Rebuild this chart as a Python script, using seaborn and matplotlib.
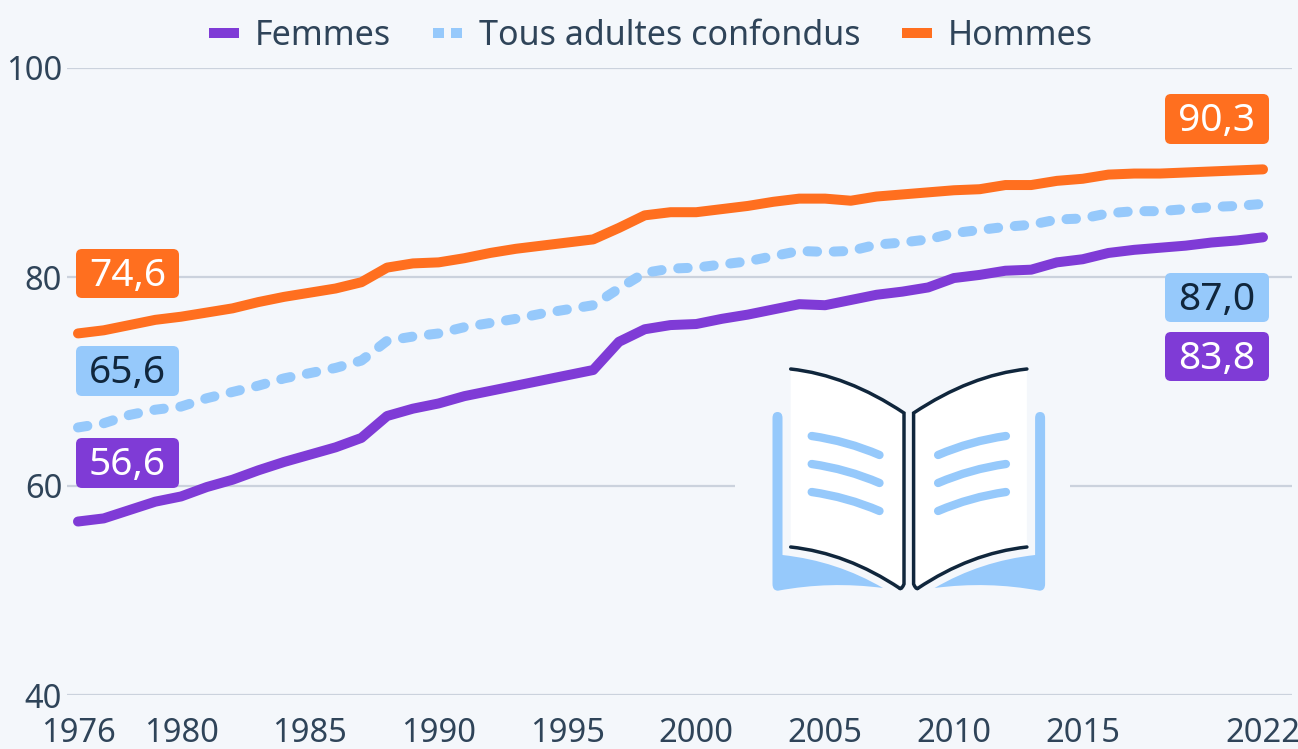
import numpy as np
import pandas as pd
import matplotlib
matplotlib.use('Agg')
import matplotlib.pyplot as plt
from matplotlib.patches import FancyBboxPatch, PathPatch, Rectangle
from matplotlib.path import Path
import seaborn as sns

years = list(range(1976, 2023))
femmes = [56.6, 56.9, 57.7, 58.5, 59.0, 59.9, 60.6, 61.5, 62.3, 63.0, 63.7, 64.6,
          66.7, 67.4, 67.9, 68.6, 69.1, 69.6, 70.1, 70.6, 71.1, 73.8, 75.0, 75.4,
          75.5, 76.0, 76.4, 76.9, 77.4, 77.3, 77.8, 78.3, 78.6, 79.0, 79.9, 80.2,
          80.6, 80.7, 81.4, 81.7, 82.3, 82.6, 82.8, 83.0, 83.3, 83.5, 83.8]
tous = [65.6, 66.0, 66.8, 67.3, 67.6, 68.4, 69.0, 69.6, 70.3, 70.8, 71.3, 72.0,
        73.9, 74.3, 74.6, 75.2, 75.6, 76.0, 76.5, 76.9, 77.3, 78.9, 80.4, 80.8,
        80.9, 81.2, 81.5, 82.0, 82.5, 82.4, 82.5, 83.1, 83.3, 83.6, 84.2, 84.5,
        84.8, 85.0, 85.5, 85.6, 86.1, 86.3, 86.3, 86.5, 86.7, 86.8, 87.0]
hommes = [74.6, 74.9, 75.4, 75.9, 76.2, 76.6, 77.0, 77.6, 78.1, 78.5, 78.9, 79.5,
          80.9, 81.3, 81.4, 81.8, 82.3, 82.7, 83.0, 83.3, 83.6, 84.7, 85.9, 86.2,
          86.2, 86.5, 86.8, 87.2, 87.5, 87.5, 87.3, 87.7, 87.9, 88.1, 88.3, 88.4,
          88.8, 88.8, 89.2, 89.4, 89.8, 89.9, 89.9, 90.0, 90.1, 90.2, 90.3]
x_ticks = [1976, 1980, 1985, 1990, 1995, 2000, 2005, 2010, 2015, 2022]
y_ticks = [40, 60, 80, 100]

BG = '#f4f7fb'
PURPLE = '#7f3bd6'
BLUE = '#96c9fb'
ORANGE = '#ff6f1f'
DARK = '#10263c'
TICK = '#2f4459'
GRID = '#cbd2dd'

names = ['Femmes', 'Tous adultes confondus', 'Hommes']
df = pd.DataFrame({'annee': years * 3,
                   'valeur': femmes + tous + hommes,
                   'serie': [n for n in names for _ in years]})

sns.set_theme(style='white')
plt.rcParams['font.family'] = ['Noto Sans', 'DejaVu Sans']

W, H = 1298, 749
fig = plt.figure(figsize=(W / 100, H / 100), dpi=100, facecolor=BG)

# axes placed so the gridlines land on the same pixels as the reference
left, right, top, bottom = 67, 1292, 68, 695
ax = fig.add_axes([left / W, 1 - bottom / H, (right - left) / W, (bottom - top) / H])
ax.set_facecolor(BG)

sns.lineplot(data=df, x='annee', y='valeur', hue='serie', style='serie',
             hue_order=names, style_order=names,
             palette=[PURPLE, BLUE, ORANGE],
             dashes={'Femmes': '', 'Tous adultes confondus': (0.95, 1.667), 'Hommes': ''},
             linewidth=7.2, ax=ax, clip_on=False, errorbar=None)

for line in ax.get_lines():
    line.set_solid_capstyle('round')
    line.set_dash_capstyle('round')
    line.set_solid_joinstyle('round')

px_year = (1263 - 78) / 46
ax.set_xlim(1976 - (78 - left) / px_year, 1976 + (right - 78) / px_year)
ax.set_ylim(40, 100)
ax.set_xticks(x_ticks)
ax.set_yticks(y_ticks)
ax.set_xlabel('')
ax.set_ylabel('')
ax.grid(axis='y', color=GRID, linewidth=1.6)
ax.grid(axis='x', visible=False)
ax.set_axisbelow(True)
sns.despine(ax=ax, left=True, bottom=True, top=True, right=True)
# pad kept just small enough for the year labels to stay inside the figure
ax.tick_params(axis='x', length=0, pad=16, labelsize=23.5, labelcolor=TICK)
ax.tick_params(axis='y', length=0, pad=3.5, labelsize=23.5, labelcolor=TICK)

handles, labels = ax.get_legend_handles_labels()
leg = ax.legend(handles, labels, ncol=3, frameon=False, fontsize=24.5,
                loc='center', bbox_to_anchor=(651 / W, 1 - 36 / H),
                bbox_transform=fig.transFigure, handlelength=0.88, handletextpad=0.47,
                columnspacing=1.22, labelcolor=TICK, borderpad=0)
for h in leg.get_lines():
    h.set_linewidth(7.2)
    h.set_solid_capstyle('butt')
    h.set_dash_capstyle('butt')
leg.get_lines()[1].set_dashes((1.1, 0.7))

# overlay in pixel coordinates for the value boxes and the book icon
ov = fig.add_axes([0, 0, 1, 1], facecolor='none')
ov.set_xlim(0, W)
ov.set_ylim(H, 0)
ov.axis('off')


def value_box(x0, y0, x1, y1, value, color, text_color):
    ov.add_patch(FancyBboxPatch((x0 + 6, y0 + 6), x1 - x0 - 12, y1 - y0 - 12,
                                boxstyle='round,pad=6,rounding_size=6',
                                fc=color, ec='none', zorder=5))
    ov.text((x0 + x1) / 2, (y0 + y1) / 2 - 2, f'{value:.1f}'.replace('.', ','),
            ha='center', va='center_baseline', fontsize=28, color=text_color, zorder=6)


value_box(76, 249, 179, 298, hommes[0], ORANGE, 'white')
value_box(76, 346, 179, 396, tous[0], BLUE, DARK)
value_box(76, 438, 179, 488, femmes[0], PURPLE, 'white')
value_box(1165, 94, 1269, 144, hommes[-1], ORANGE, 'white')
value_box(1165, 273, 1269, 322, tous[-1], BLUE, DARK)
value_box(1165, 332, 1269, 381, femmes[-1], PURPLE, 'white')

# book icon, gridline at 60 stops around it
ov.add_patch(Rectangle((735, 470), 335, 32, fc=BG, ec='none', zorder=1))

M, L, C, Z = Path.MOVETO, Path.LINETO, Path.CURVE3, Path.CLOSEPOLY
CX = 908.8


def mirrored(pts):
    return [(2 * CX - x, y) for x, y in pts]


cover = [(772.5, 418), (772.5, 412), (777.5, 412), (782.5, 412), (782.5, 418), (782.5, 555),
         (837, 561), (883, 588), (830, 581), (778, 590.7), (772.5, 590.7), (772.5, 584),
         (772.5, 418)]
cover_codes = [M, C, C, C, C, L, C, C, C, C, C, C, Z]
page = [(790.7, 369), (847, 375), (905, 413), (905, 588), (847, 553), (790.7, 547), (790.7, 369)]
page_codes = [M, C, C, L, C, C, Z]
outline_top = [(790.7, 369), (847, 375), (904, 413), (904, 584), (902, 589), (900, 588.5)]
outline_bot = [(900, 588.5), (847, 553), (790.7, 547)]

for flip in (False, True):
    f = mirrored if flip else (lambda p: p)
    ov.add_patch(PathPatch(Path(f(cover), cover_codes), fc=BLUE, ec='none', zorder=2))
    ov.add_patch(PathPatch(Path(f(page), page_codes), fc='white', ec='none', zorder=3))
    ov.add_patch(PathPatch(Path(f(outline_top), [M, C, C, L, C, C]), fc='none', ec=DARK,
                           lw=2.5, zorder=4, capstyle='round'))
    ov.add_patch(PathPatch(Path(f(outline_bot), [M, C, C]), fc='none', ec=DARK,
                           lw=2.5, zorder=4, capstyle='round'))
    for dy in (0, 28, 56):
        stroke = [(811.7, 436 + dy), (847, 441 + dy), (879.5, 455 + dy)]
        ov.add_patch(PathPatch(Path(f(stroke), [M, C, C]), fc='none', ec=BLUE,
                               lw=6, zorder=4, capstyle='round'))

fig.savefig('out.png', dpi=100, facecolor=BG)
